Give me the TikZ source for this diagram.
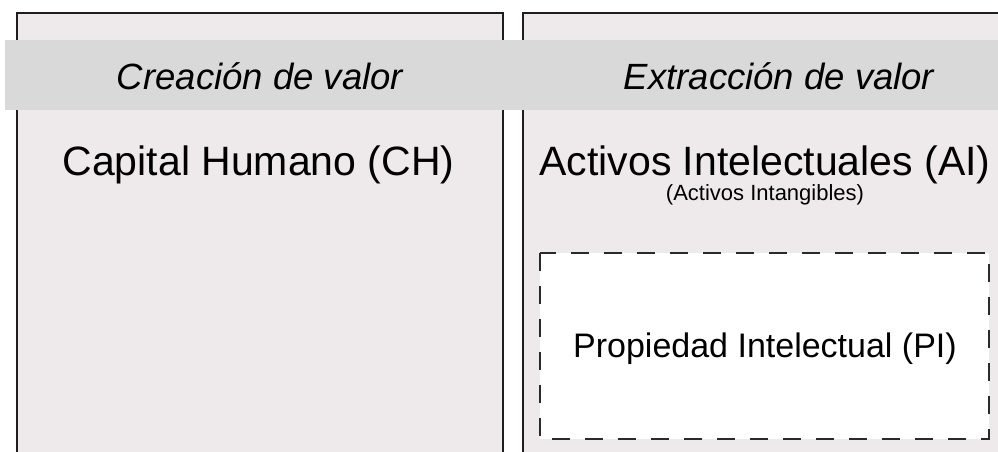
\documentclass[tikz,border=0pt]{standalone}
\usepackage{fontspec}
\setmainfont{Liberation Sans}
\definecolor{panelfill}{HTML}{EEEAEB}
\definecolor{bandfill}{HTML}{D9D9D9}
\definecolor{edge}{HTML}{1E1E1E}
\definecolor{dashedge}{HTML}{2A2A2A}
\begin{document}
\begin{tikzpicture}[x=1pt,y=-1pt,
  panel/.style={fill=panelfill,draw=edge,line width=2pt},
  band/.style={fill=bandfill,draw=none},
  pibox/.style={fill=white,draw=dashedge,line width=2pt,dash pattern=on 18pt off 15pt},
  hdr/.style={anchor=base,inner sep=0pt,font=\fontsize{36.5}{40}\selectfont\itshape},
  big/.style={anchor=base,inner sep=0pt,text depth=0pt,font=\fontsize{41}{44}\selectfont},
  small/.style={anchor=base,inner sep=0pt,text height=12pt,font=\fontsize{22}{25}\selectfont},
  mid/.style={anchor=base,inner sep=0pt,font=\fontsize{34}{38}\selectfont}]
\useasboundingbox (0,0) rectangle (998,452);
\clip (0,0) rectangle (998,452);
\fill[white] (0,0) rectangle (998,452);
% panels
\path[panel] (17,470) -- (17,13) -- (503,13) -- (503,470);
\path[panel] (523,470) -- (523,13) -- (1010,13) -- (1010,470);
% band
\path[band] (5,40) rectangle (1005,110);
% PI box
\path[pibox] (540,253) rectangle (989,439);
% texts
\node[hdr] (crea) at (260,89) {Creación de valor};
\node[hdr] (extr) at (779,89) {Extracción de valor};
\node[big] (ch) at (258.5,175) {Capital Humano (CH)};
\node[big] (ai) at (765,175) {Activos Intelectuales (AI)};
\node[small] (aint) at (765,200) {(Activos Intangibles)};
\node[mid] (pi) at (765,357) {Propiedad Intelectual (PI)};
\end{tikzpicture}
\end{document}
